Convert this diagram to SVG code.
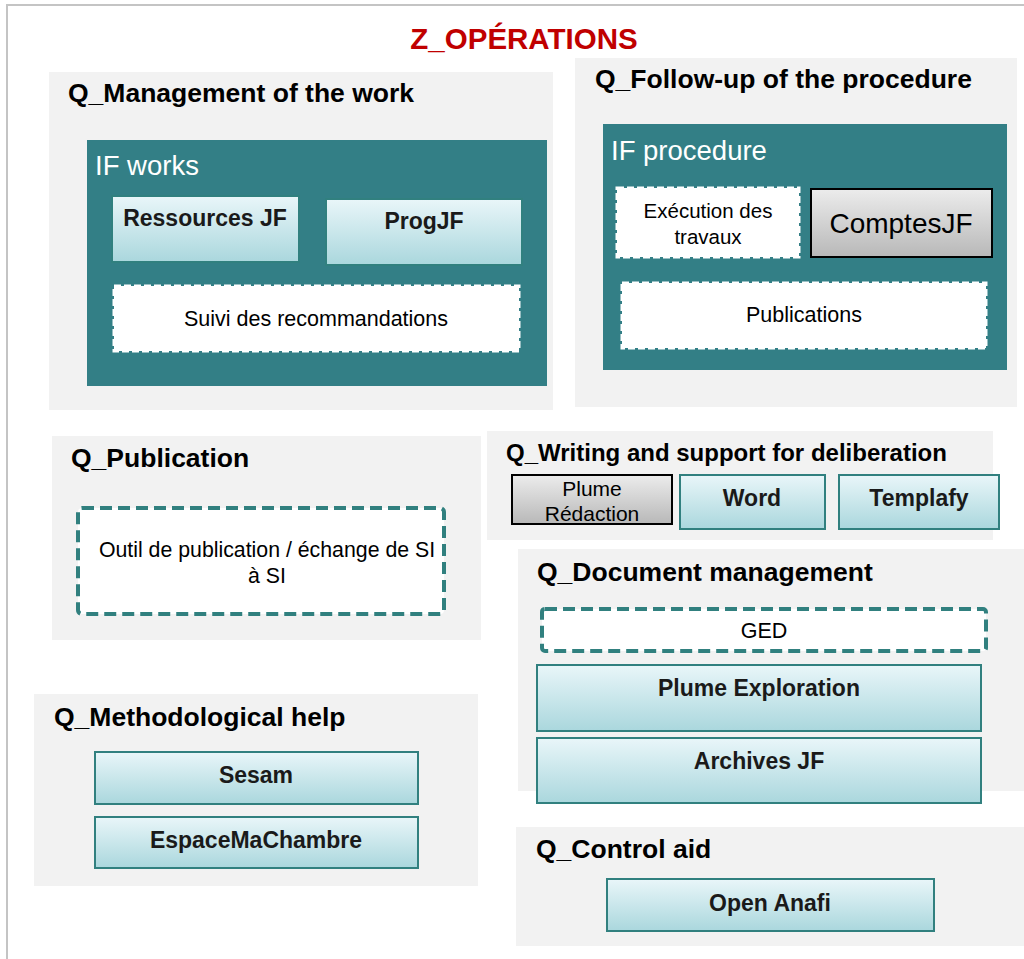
<svg xmlns="http://www.w3.org/2000/svg" width="1024" height="959" viewBox="0 0 1024 959">
<defs>
<linearGradient id="gT" x1="0" y1="0" x2="0" y2="1"><stop offset="0" stop-color="#e9f6f9"/><stop offset="1" stop-color="#aad7dd"/></linearGradient>
<linearGradient id="gG" x1="0" y1="0" x2="0" y2="1"><stop offset="0" stop-color="#ececec"/><stop offset="1" stop-color="#b8b8b8"/></linearGradient>
<style>
text{font-family:"Liberation Sans",Arial,sans-serif}
.panel{fill:#f2f2f2}
.ptitle{font-size:26.5px;font-weight:bold;fill:#000}
.ifbox{fill:#337f86}
.iftitle{font-size:27.5px;fill:#fff}
.tbox{fill:url(#gT);stroke:#31807f;stroke-width:2}
.gbox{fill:url(#gG);stroke:#000;stroke-width:2}
.wdash{fill:#fff;stroke:#fff;stroke-width:3;stroke-dasharray:7 3}
.tdash{fill:#fff;stroke:#31807f;stroke-width:4;stroke-dasharray:12 6}
.bt{font-size:23px;font-weight:bold;fill:#1a1a1a;text-anchor:middle}
.nt{font-size:21.5px;fill:#000;text-anchor:middle}
</style>
</defs>
<rect x="0" y="0" width="1024" height="959" fill="#fff"/>
<path d="M7,960 V5 H1025" fill="none" stroke="#c4c4c4" stroke-width="2"/>
<text x="524" y="49" font-size="29.5" font-weight="bold" fill="#c00000" text-anchor="middle">Z_OPÉRATIONS</text>

<g id="q_management">
<rect class="panel" x="49" y="72" width="504" height="338"/>
<text class="ptitle" x="68" y="102">Q_Management of the work</text>
<g id="if_works">
<rect class="ifbox" x="87" y="140" width="460" height="246"/>
<text class="iftitle" x="95" y="175">IF works</text>
</g>
<g id="ressources_jf"><rect class="tbox" x="112" y="196" width="187" height="66" stroke="none"/><text class="bt" x="205" y="226">Ressources JF</text></g>
<g id="progjf"><rect class="tbox" x="326" y="199" width="196" height="66" stroke="none"/><text class="bt" x="424" y="229">ProgJF</text></g>
<g id="suivi"><rect class="wdash" x="114" y="286" width="405" height="65"/><text class="nt" x="316" y="326">Suivi des recommandations</text></g>
</g>

<g id="q_followup">
<rect class="panel" x="575" y="58" width="442" height="349"/>
<text class="ptitle" x="595" y="88">Q_Follow-up of the procedure</text>
<g id="if_procedure">
<rect class="ifbox" x="603" y="124" width="404" height="246"/>
<text class="iftitle" x="611" y="160">IF procedure</text>
</g>
<g id="execution"><rect class="wdash" x="617" y="188" width="182" height="69"/><text class="nt" x="708" y="218" style="font-size:20.5px">Exécution des</text><text class="nt" x="708" y="244" style="font-size:20.5px">travaux</text></g>
<g id="comptesjf"><rect class="gbox" x="811" y="189" width="181" height="68"/><text x="901" y="233" font-size="28" fill="#000" text-anchor="middle">ComptesJF</text></g>
<g id="publications"><rect class="wdash" x="622" y="283" width="364" height="65"/><text class="nt" x="804" y="322">Publications</text></g>
</g>

<g id="q_publication">
<rect class="panel" x="52" y="436" width="429" height="204"/>
<text class="ptitle" x="71" y="467">Q_Publication</text>
<g id="outil"><rect class="tdash" x="78" y="508" width="366" height="106" rx="4"/><text class="nt" x="267" y="557" style="font-size:21.3px">Outil de publication / échange de SI</text><text class="nt" x="267" y="583" style="font-size:21.3px">à SI</text></g>
</g>

<g id="q_writing">
<rect class="panel" x="487" y="431" width="506" height="109"/>
<text class="ptitle" x="506" y="461" style="font-size:24px">Q_Writing and support for deliberation</text>
<g id="plume_redaction"><rect class="gbox" x="512" y="475" width="160" height="49"/><text class="nt" x="592" y="496" style="font-size:21px">Plume</text><text class="nt" x="592" y="521" style="font-size:21px">Rédaction</text></g>
<g id="word"><rect class="tbox" x="680" y="475" width="145" height="54"/><text class="bt" x="752" y="506">Word</text></g>
<g id="templafy"><rect class="tbox" x="839" y="475" width="160" height="54"/><text class="bt" x="919" y="506">Templafy</text></g>
</g>

<g id="q_document">
<rect class="panel" x="518" y="549" width="506" height="242"/>
<text class="ptitle" x="537" y="581">Q_Document management</text>
<g id="ged"><rect class="tdash" x="542" y="609" width="444" height="42" rx="3"/><text class="nt" x="764" y="638">GED</text></g>
<g id="plume_exploration"><rect class="tbox" x="537" y="665" width="444" height="66"/><text class="bt" x="759" y="696">Plume Exploration</text></g>
<g id="archives_jf"><rect class="tbox" x="537" y="738" width="444" height="65"/><text class="bt" x="759" y="769">Archives JF</text></g>
</g>

<g id="q_methodological">
<rect class="panel" x="34" y="694" width="444" height="192"/>
<text class="ptitle" x="54" y="726">Q_Methodological help</text>
<g id="sesam"><rect class="tbox" x="95" y="752" width="323" height="52"/><text class="bt" x="256" y="783">Sesam</text></g>
<g id="espace"><rect class="tbox" x="95" y="817" width="323" height="51"/><text class="bt" x="256" y="848">EspaceMaChambre</text></g>
</g>

<g id="q_control">
<rect class="panel" x="516" y="827" width="508" height="119"/>
<text class="ptitle" x="536" y="858">Q_Control aid</text>
<g id="open_anafi"><rect class="tbox" x="607" y="879" width="327" height="52"/><text class="bt" x="770" y="911">Open Anafi</text></g>
</g>
<g id="connectors"/>
</svg>
